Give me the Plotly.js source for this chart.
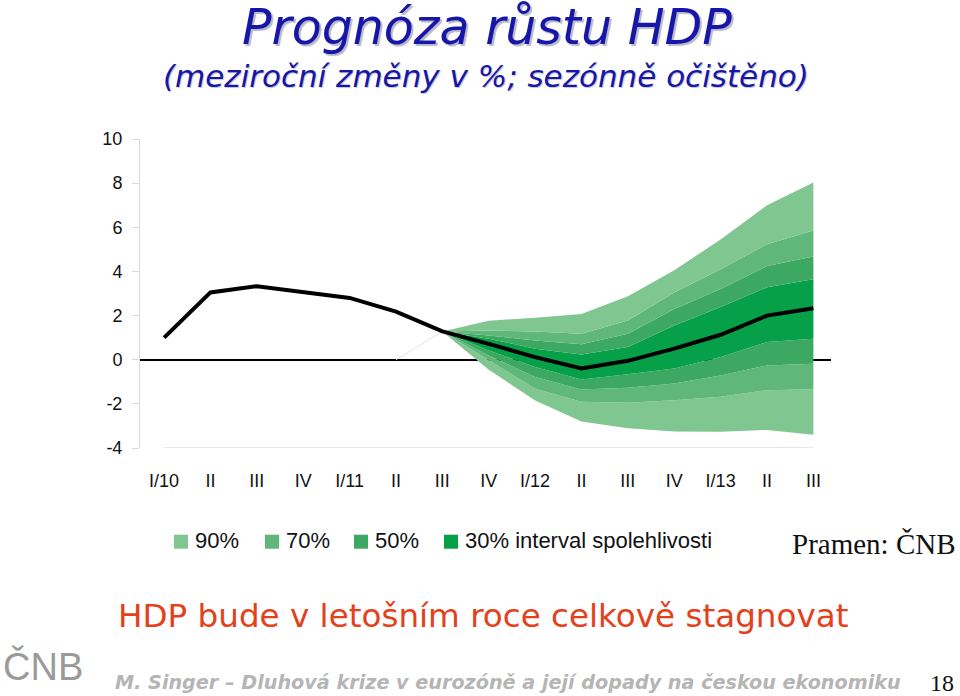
<!DOCTYPE html>
<html>
<head>
<meta charset="utf-8">
<script src="https://cdn.plot.ly/plotly-3.0.1.min.js"></script>
<style>
html,body{margin:0;padding:0;background:#fff;}
#chart{width:960px;height:696px;}
</style>
</head>
<body>
<div id="chart"></div>
<script>
// ---- data ----
const quarters = ['I/10','II','III','IV','I/11','II','III','IV','I/12','II','III','IV','I/13','II','III'];
const gdp = [1.0, 3.05, 3.33, 3.05, 2.8, 2.18, 1.28, 0.72, 0.12, -0.4, -0.05, 0.5, 1.13, 2.0, 2.33];
// fan chart bands, from III/11 to III/13
const fanQuarters = [6, 7, 8, 9, 10, 11, 12, 13, 14];
const upper90 = [1.28, 1.77, 1.9, 2.07, 2.87, 4.05, 5.45, 7.0, 8.03];
const upper70 = [1.28, 1.32, 1.28, 1.18, 1.78, 3.05, 4.1, 5.23, 5.86];
const upper50 = [1.28, 1.1, 0.87, 0.7, 1.18, 2.3, 3.2, 4.25, 4.68];
const upper30 = [1.28, 0.95, 0.5, 0.24, 0.58, 1.55, 2.39, 3.28, 3.65];
const lower30 = [1.28, 0.42, -0.33, -0.9, -0.66, -0.4, 0.12, 0.8, 0.95];
const lower50 = [1.28, 0.19, -0.78, -1.35, -1.27, -1.08, -0.71, -0.26, -0.18];
const lower70 = [1.28, -0.03, -1.31, -1.9, -1.95, -1.84, -1.68, -1.38, -1.34];
const lower90 = [1.28, -0.45, -1.85, -2.8, -3.1, -3.25, -3.26, -3.18, -3.4];
const guideQuarters = [5, 6];
const guideValues = [0, 1.28];
const legendLabels = ['90%', '70%', '50%', '30% interval spolehlivosti'];
const yTicks = [-4, -2, 0, 2, 4, 6, 8, 10];
const yTickText = ['-4', '-2', '0', '2', '4', '6', '8', '10'];

// ---- styles ----
const C90 = '#80c691', C70 = '#5fb879', C50 = '#3ca862', C30 = '#05a047';
const bandColors = [C90, C70, C50, C30];
const xIdx = quarters.map((q, i) => i);

function band(y, color, fill) {
  return {x: fanQuarters, y: y, type: 'scatter', mode: 'lines',
    line: {width: 0, color: color || 'rgba(0,0,0,0)'},
    fill: fill ? 'tonexty' : 'none', fillcolor: color, showlegend: false, hoverinfo: 'skip'};
}
const traces = [
  band(lower90, null, false),
  band(lower70, C90, true),
  band(lower50, C70, true),
  band(lower30, C50, true),
  band(upper30, C30, true),
  band(upper50, C50, true),
  band(upper70, C70, true),
  band(upper90, C90, true),
  {x: guideQuarters, y: guideValues, type: 'scatter', mode: 'lines',
   line: {color: '#e2e2e2', width: 1}, showlegend: false, hoverinfo: 'skip'},
  {x: xIdx, y: gdp, type: 'scatter', mode: 'lines',
   line: {color: '#000', width: 4}, showlegend: false}
];

// pixel -> paper helpers (plot area 140..831 x 139..448)
const L = 140, R = 831, T = 139.3, B = 448.3;
const px = v => (v - L) / (R - L);
const py = v => (B - v) / (B - T);

const annotations = [
  {text: 'Prognóza růstu HDP', x: px(487), y: py(28), xref: 'paper', yref: 'paper',
   xanchor: 'center', yanchor: 'middle', showarrow: false,
   font: {family: 'DejaVu Sans', size: 49, color: '#1616a8', style: 'italic', shadow: '2px 2px 1px #b8b8c8'}},
  {text: '(meziroční změny v %; sezónně očištěno)', x: px(486), y: py(76), xref: 'paper', yref: 'paper',
   xanchor: 'center', yanchor: 'middle', showarrow: false,
   font: {family: 'DejaVu Sans', size: 31, color: '#1616a8', style: 'italic', shadow: '1px 1px 1px #c0c0d0'}},
  {text: 'Pramen: ČNB', x: px(958), y: py(544), xref: 'paper', yref: 'paper',
   xanchor: 'right', yanchor: 'middle', showarrow: false,
   font: {family: 'Liberation Serif', size: 29, color: '#111'}},
  {text: 'HDP bude v letošním roce celkově stagnovat', x: px(116), y: py(616), xref: 'paper', yref: 'paper',
   xanchor: 'left', yanchor: 'middle', showarrow: false,
   font: {family: 'DejaVu Sans', size: 32.6, color: '#e4411a'}},
  {text: 'ČNB', x: px(1), y: py(667), xref: 'paper', yref: 'paper',
   xanchor: 'left', yanchor: 'middle', showarrow: false,
   font: {family: 'Liberation Sans', size: 38, color: '#9a9a9a'}},
  {text: 'M. Singer – Dluhová krize v eurozóně a její dopady na českou ekonomiku', x: px(113), y: py(683), xref: 'paper', yref: 'paper',
   xanchor: 'left', yanchor: 'middle', showarrow: false,
   font: {family: 'DejaVu Sans', size: 19.2, color: '#b5b5b5', style: 'italic', weight: 'bold'}},
  {text: '18', x: px(956), y: py(683), xref: 'paper', yref: 'paper',
   xanchor: 'right', yanchor: 'middle', showarrow: false,
   font: {family: 'Liberation Serif', size: 24, color: '#111'}}
];

const shapes = [
  {type: 'line', xref: 'x', yref: 'y', x0: xIdx[0], x1: xIdx[xIdx.length - 1], y0: yTicks[0], y1: yTicks[0],
   line: {color: '#e0e0e0', width: 1.5}, layer: 'below'}
];
const legendX = [174, 265, 354, 444];
legendLabels.forEach((lab, i) => {
  shapes.push({type: 'rect', xref: 'paper', yref: 'paper',
    x0: px(legendX[i]), x1: px(legendX[i] + 14), y0: py(549), y1: py(535),
    fillcolor: bandColors[i], line: {width: 0}});
  annotations.push({text: lab, x: px(legendX[i] + 19), y: py(541), xref: 'paper', yref: 'paper',
    xanchor: 'left', yanchor: 'middle', showarrow: false,
    font: {family: 'Liberation Sans, Arial', size: 22, color: '#111'}});
});

const layout = {
  width: 960, height: 696,
  margin: {l: L, r: 960 - R, t: T, b: 696 - B, pad: 0},
  paper_bgcolor: '#fff', plot_bgcolor: '#fff',
  showlegend: false,
  xaxis: {range: [-0.52, 14.38], tickvals: xIdx, ticktext: quarters, showgrid: false,
    zeroline: false, showline: false, ticks: '', ticklabelstandoff: 20,
    tickfont: {family: 'Liberation Sans, Arial', size: 18, color: '#111'}, fixedrange: true},
  yaxis: {range: [-4, 10], tickvals: yTicks, ticktext: yTickText, showgrid: false, zeroline: true,
    zerolinecolor: '#000', zerolinewidth: 2, showline: true, linecolor: '#d9d9d9', linewidth: 1,
    ticks: 'outside', ticklen: 7, tickcolor: '#d9d9d9', ticklabelstandoff: 6,
    tickfont: {family: 'Liberation Sans, Arial', size: 18, color: '#111'}, fixedrange: true},
  annotations: annotations,
  shapes: shapes
};

Plotly.newPlot('chart', traces, layout, {displayModeBar: false, staticPlot: true});
</script>
</body>
</html>
